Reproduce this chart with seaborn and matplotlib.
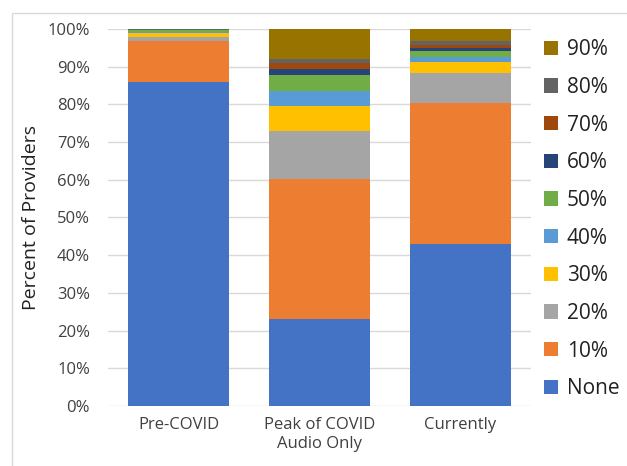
import matplotlib
matplotlib.use("Agg")
import matplotlib.pyplot as plt
from matplotlib.patches import Rectangle, Patch
from matplotlib.ticker import PercentFormatter
import pandas as pd
import seaborn as sns

periods = ["Pre-COVID", "Peak of COVID\nAudio Only", "Currently"]
levels = ["None", "10%", "20%", "30%", "40%", "50%", "60%", "70%", "80%", "90%"]

pre_covid = [86.0, 10.8, 1.0, 1.1, 0.4, 0.4, 0.1, 0.0, 0.2, 0.0]
peak_covid = [23.2, 37.0, 12.8, 6.7, 3.8, 4.3, 1.7, 1.4, 1.1, 8.0]
currently = [43.0, 37.4, 7.8, 3.1, 1.2, 1.7, 0.8, 0.8, 0.9, 3.3]

colors = ["#4472C4", "#ED7D31", "#A5A5A5", "#FFC000", "#5B9BD5",
          "#70AD47", "#264478", "#9E480E", "#636363", "#997300"]

rows = []
for period, vals in zip(periods, [pre_covid, peak_covid, currently]):
    for lvl, v in zip(levels, vals):
        rows.append({"period": period, "level": lvl, "pct": v})
df = pd.DataFrame(rows)
df["period"] = pd.Categorical(df["period"], categories=periods, ordered=True)

sns.set_theme(style="white")
plt.rcParams["font.family"] = ["Open Sans", "DejaVu Sans"]

fig = plt.figure(figsize=(6.27, 4.66), dpi=100)
ax = fig.add_axes([108 / 627, 1 - 406 / 466, 423 / 627, 377 / 466])

palette = dict(zip(levels, colors))
sns.histplot(
    data=df, x="period", weights="pct", hue="level",
    hue_order=levels[::-1], palette=palette,
    multiple="stack", discrete=True, shrink=0.716,
    linewidth=0, alpha=1, legend=False, ax=ax,
)

ax.set_ylim(0, 100)
ax.set_xlim(-0.5, 2.5)
ax.yaxis.set_major_locator(plt.MultipleLocator(10))
ax.yaxis.set_major_formatter(PercentFormatter(decimals=0))
ax.grid(axis="y", color="#D9D9D9", linewidth=1)
ax.set_axisbelow(True)
for s in ax.spines.values():
    s.set_visible(False)
ax.tick_params(axis="both", length=0, labelsize=12, colors="#404040")
ax.tick_params(axis="x", pad=8)
ax.tick_params(axis="y", pad=13)
ax.set_xlabel("")
ax.set_ylabel("Percent of Providers", fontsize=14, color="#222222", labelpad=5)

handles = [Patch(facecolor=c, edgecolor="none") for c in colors[::-1]]
leg = ax.legend(handles, levels[::-1], loc="upper left",
                frameon=False, fontsize=15,
                handlelength=0.67, handleheight=0.67,
                handletextpad=0.45, labelspacing=0.8, borderaxespad=0)
leg.set_bbox_to_anchor((1.01, 0.995), transform=ax.transAxes)
for t in leg.get_texts():
    t.set_color("#222222")

fig.patches.append(Rectangle((12 / 627, -0.1), 1.2, 1 - 13 / 466 + 0.1,
                             transform=fig.transFigure, fill=False,
                             edgecolor="#D9D9D9", linewidth=1))

fig.savefig("out.png", dpi=100)
